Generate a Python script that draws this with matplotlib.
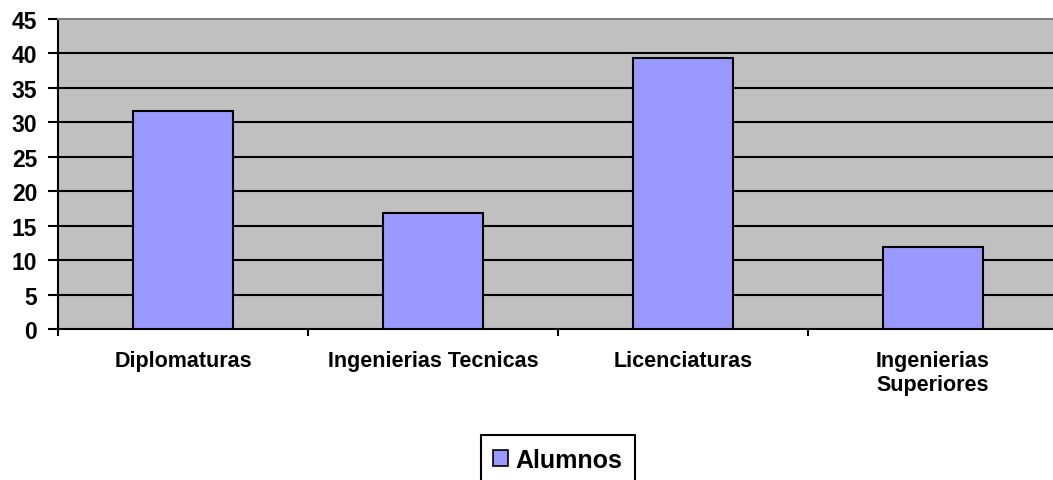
import matplotlib.pyplot as plt
from matplotlib.patches import Patch

categorias = ["Diplomaturas", "Ingenierias Tecnicas", "Licenciaturas", "Ingenierias\nSuperiores"]
alumnos = [31.6, 16.8, 39.4, 11.9]
yticks = [0, 5, 10, 15, 20, 25, 30, 35, 40, 45]

plt.rcParams['font.family'] = ['Liberation Sans', 'DejaVu Sans']
plt.rcParams['font.weight'] = 'bold'

fig = plt.figure(figsize=(10.53, 4.81), dpi=100)
W, H = 1053.0, 481.0
ax = fig.add_axes([58 / W, 1 - 330 / H, 1000 / W, 310 / H])
ax.set_facecolor("#C0C0C0")

x = range(len(categorias))
ax.bar(x, alumnos, width=0.4, color="#9999FF", edgecolor="black", linewidth=1.5, zorder=3, label="Alumnos")

ax.set_xlim(-0.5, 3.5)
ax.set_ylim(0, 45)
ax.set_yticks(yticks)
ax.set_yticklabels([str(v) for v in yticks], fontsize=16.5, fontweight='bold')
for v in yticks[1:-1]:
    ax.axhline(v, color="black", linewidth=1.5, zorder=2)

ax.set_xticks([-0.5, 0.5, 1.5, 2.5, 3.5])
ax.set_xticklabels([])
ax.set_xticks(list(x), minor=True)
ax.set_xticklabels(categorias, minor=True, fontsize=15.5, fontweight='bold', linespacing=1.2)
ax.tick_params(axis='x', which='minor', length=0, pad=15)
ax.tick_params(axis='x', which='major', length=5, width=1.5, direction='out')
ax.tick_params(axis='y', length=7, width=1.5, direction='out', pad=8)

ax.spines['left'].set_linewidth(1.5)
ax.spines['bottom'].set_linewidth(1.5)
ax.spines['top'].set_color("#808080")
ax.spines['top'].set_linewidth(1.5)
ax.spines['right'].set_visible(False)

handle = Patch(facecolor="#9999FF", edgecolor="black", linewidth=1.2)
leg = fig.legend([handle], ["Alumnos"], loc='upper center', bbox_to_anchor=(558 / W, 1 - 436 / H),
                 prop={'size': 18, 'weight': 'bold'}, fancybox=False, edgecolor="black",
                 handlelength=0.6, handleheight=0.6, handletextpad=0.3, borderpad=0.5,
                 borderaxespad=0, framealpha=1)
leg.get_frame().set_linewidth(1.5)

fig.savefig("out.png", dpi=100)
